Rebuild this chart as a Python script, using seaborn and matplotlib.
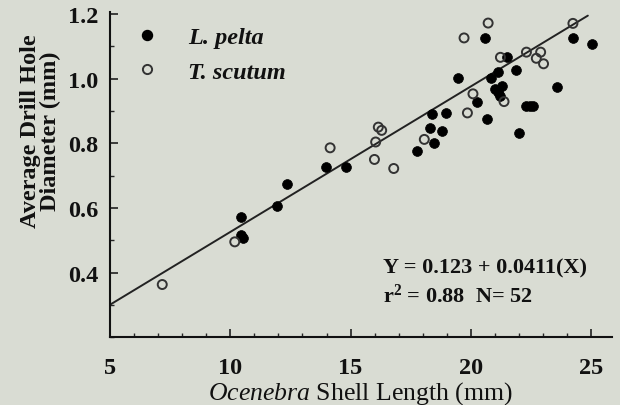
import matplotlib
matplotlib.use("Agg")
import matplotlib.pyplot as plt
import numpy as np
import pandas as pd
import seaborn as sns
from matplotlib.lines import Line2D
from matplotlib.ticker import MultipleLocator

# ---- data ----
pelta_len = [10.47, 10.47, 10.55, 11.96, 12.36, 13.97, 14.80, 17.77, 18.47, 18.29,
             18.78, 18.36, 18.98, 19.46, 20.25, 20.66, 20.58, 20.81, 21.10, 21.30,
             21.10, 21.19, 20.98, 21.49, 21.88, 21.99, 22.30, 22.57, 22.43, 23.56,
             24.23, 25.03]
pelta_dia = [0.572, 0.517, 0.508, 0.606, 0.674, 0.727, 0.727, 0.777, 0.802, 0.847,
             0.838, 0.891, 0.894, 1.002, 0.927, 0.876, 1.126, 1.002, 1.020, 0.977,
             0.960, 0.947, 0.968, 1.066, 1.028, 0.832, 0.914, 0.914, 0.914, 0.975,
             1.125, 1.107]

scutum_len = [7.18, 10.19, 14.15, 16.15, 16.29, 16.04, 15.99, 16.79, 18.06, 19.85,
              20.08, 21.37, 21.22, 19.71, 20.71, 22.30, 22.89, 22.71, 23.01, 24.23]
scutum_dia = [0.363, 0.495, 0.786, 0.850, 0.840, 0.804, 0.750, 0.722, 0.812, 0.894,
              0.953, 0.929, 1.066, 1.126, 1.172, 1.082, 1.082, 1.063, 1.046, 1.171]

# fitted line as drawn
line_x = [5.0, 24.85]
line_y = [0.300, 1.195]

df = pd.DataFrame({
    "length": pelta_len + scutum_len,
    "diameter": pelta_dia + scutum_dia,
    "species": ["L. pelta"] * len(pelta_len) + ["T. scutum"] * len(scutum_len),
})

bg = "#d9dcd3"
ink = "#111111"
sns.set_style("ticks")
plt.rcParams["font.family"] = ["Liberation Serif", "DejaVu Serif"]
plt.rcParams["mathtext.fontset"] = "custom"
plt.rcParams["mathtext.rm"] = "Liberation Serif"
plt.rcParams["mathtext.it"] = "Liberation Serif:italic"
plt.rcParams["mathtext.bf"] = "Liberation Serif:bold"

fig = plt.figure(figsize=(6.2, 4.06), dpi=100, facecolor=bg)
ax = fig.add_axes([0.177, 0.167, 0.81, 0.80])
ax.set_facecolor(bg)

sns.lineplot(x=line_x, y=line_y, ax=ax, color="#222222", linewidth=1.4)

lp = df[df["species"] == "L. pelta"]
ts = df[df["species"] == "T. scutum"]
sns.scatterplot(data=lp, x="length", y="diameter", ax=ax, s=50,
                color="black", edgecolor="black", linewidth=0.5, zorder=3)
sns.scatterplot(data=ts, x="length", y="diameter", ax=ax, s=42,
                facecolor="none", edgecolor="#333333", linewidth=1.4, zorder=3)

ax.set_xlim(5, 25.85)
ax.set_ylim(0.2, 1.205)
ax.xaxis.set_major_locator(MultipleLocator(5))
ax.xaxis.set_minor_locator(MultipleLocator(1))
ax.set_yticks([0.4, 0.6, 0.8, 1.0, 1.2])
ax.yaxis.set_minor_locator(MultipleLocator(0.1))
ax.set_yticklabels(["0.4", "0.6", "0.8", "1.0", "1.2"])
ax.tick_params(which="major", direction="in", length=6, width=1.1,
               labelsize=17.5, colors=ink)
ax.tick_params(which="minor", direction="in", length=3, width=1.0)
ax.tick_params(axis="y", pad=8)
ax.tick_params(axis="x", pad=14)
for lab in ax.get_xticklabels() + ax.get_yticklabels():
    lab.set_fontweight("bold")

sns.despine(ax=ax)
for side in ["left", "bottom"]:
    ax.spines[side].set_linewidth(1.5)
    ax.spines[side].set_color(ink)

ax.set_xlabel(r"$\mathit{Ocenebra}$ Shell Length (mm)", fontsize=18.5,
              labelpad=1, color=ink)
ax.set_ylabel("Average Drill Hole\nDiameter (mm)", fontsize=17.5,
              fontweight="bold", linespacing=0.95, color=ink)
ax.yaxis.set_label_coords(-0.096, 0.637)

handles = [
    Line2D([], [], marker="o", linestyle="none", markersize=7.2,
           markerfacecolor="black", markeredgecolor="black"),
    Line2D([], [], marker="o", linestyle="none", markersize=6.6,
           markerfacecolor="none", markeredgecolor="#333333", markeredgewidth=1.4),
]
leg = ax.legend(handles, ["L. pelta", "T. scutum"], loc="upper left",
                bbox_to_anchor=(0.05, 0.957), frameon=False,
                handlelength=1.0, handletextpad=1.2, borderpad=0,
                borderaxespad=0, labelspacing=0.5,
                prop={"family": "Liberation Serif", "size": 17.5,
                      "style": "italic", "weight": "bold"})
for t in leg.get_texts():
    t.set_color(ink)

ax.text(0.545, 0.215, "Y = 0.123 + 0.0411(X)", transform=ax.transAxes,
        fontsize=16, fontweight="bold", color=ink, va="center")
ax.text(0.545, 0.128, r"r$^{\mathbf{2}}$ = 0.88  N= 52", transform=ax.transAxes,
        fontsize=16, fontweight="bold", color=ink, va="center")

fig.savefig("out.png", dpi=100, facecolor=bg)
